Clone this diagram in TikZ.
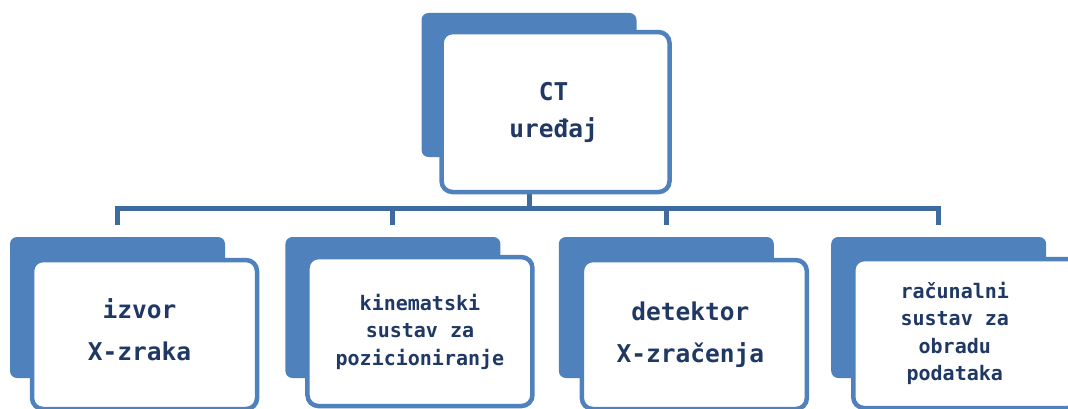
\documentclass[tikz,border=0pt]{standalone}
\usepackage{fontspec}
\setmonofont{DejaVu Sans Mono}
\usepackage{tikz}
\usetikzlibrary{positioning}
\definecolor{boxblue}{HTML}{4F81BD}
\definecolor{linkblue}{HTML}{3D6A9F}
\definecolor{txtnavy}{HTML}{1F3864}
\tikzstyle{backbox}=[rectangle,rounded corners=7pt,fill=boxblue,draw=none,
minimum width=215pt,minimum height=141pt]
\tikzstyle{frontbox}=[rectangle,rounded corners=11pt,fill=white,draw=boxblue,line width=4.5pt,
minimum width=225pt,minimum height=149pt]
\tikzstyle{bigtxt}=[align=center,text=txtnavy,font=\ttfamily\bfseries\fontsize{24.5}{42}\selectfont]
\tikzstyle{toptxt}=[align=center,text=txtnavy,font=\ttfamily\bfseries\fontsize{24.5}{37}\selectfont]
\tikzstyle{smalltxt}=[align=center,text=txtnavy,font=\ttfamily\bfseries\fontsize{20}{27.5}\selectfont]
\tikzstyle{link}=[draw=linkblue,line width=5pt]

\begin{document}
\begin{tikzpicture}[x=1pt,y=-1pt,node distance=60pt]
            \useasboundingbox (0,0) rectangle (1068,409);

            % CT PART

            \node[backbox,minimum height=144pt] (ctb) at (529,85) {};
            \coordinate (hub) at (529,208);

            % Bottom PART

            \node[backbox] (izb) at (117.5,307.5) {};
            \node[backbox, right=of izb] (kib) {};
            \node[backbox, right=58pt of kib] (deb) {};
            \node[backbox, right=57pt of deb] (rab) {};

            % Connections

            \draw[link] (ctb.south) -- (hub);
            \draw[link,shorten >=12pt] (hub) -| (izb.north);
            \draw[link,shorten >=12pt] (hub) -| (kib.north);
            \draw[link,shorten >=12pt] (hub) -| (deb.north);
            \draw[link,shorten >=12pt] (hub) -| (rab.north);

            % Front boxes

            \node[frontbox,minimum width=228pt,minimum height=160pt,
                  below right=17pt and 18pt of ctb.north west,anchor=north west] (ct) {};
            \node[frontbox,below right=21pt and 20pt of izb.north west,anchor=north west] (iz) {};
            \node[frontbox,below right=18pt and 20pt of kib.north west,anchor=north west] (ki) {};
            \node[frontbox,below right=21pt and 21pt of deb.north west,anchor=north west] (de) {};
            \node[frontbox,below right=20pt and 20pt of rab.north west,anchor=north west] (ra) {};

            % Texts

            \node[toptxt] (cttxt) at ([xshift=-2pt]ct.center) {CT\\uređaj};
            \node[bigtxt] (iztxt) at ([xshift=-5pt,yshift=5pt]iz.center) {izvor\\X-zraka};
            \node[smalltxt] (kitxt) at (ki.center) {kinematski\\sustav za\\pozicioniranje};
            \node[bigtxt] (detxt) at ([xshift=-4pt]de.center) {detektor\\X-zračenja};
            \node[smalltxt] (ratxt) at ([xshift=-11pt]ra.center) {računalni\\sustav za\\obradu\\podataka};

        \end{tikzpicture}
\end{document}
